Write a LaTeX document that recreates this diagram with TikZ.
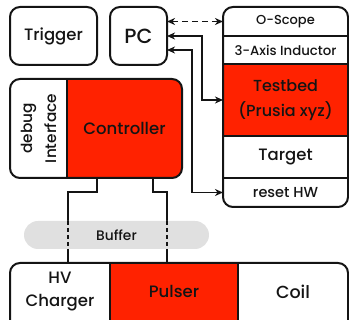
\documentclass[tikz,border=0pt]{standalone}
\usepackage{fontspec}
\setmainfont{Poppins Medium}
\usetikzlibrary{arrows.meta}
\definecolor{hotred}{RGB}{255,34,0}
\definecolor{bufgrey}{RGB}{224,224,224}
\definecolor{ink}{RGB}{20,20,20}
\tikzset{
  box/.style={draw=ink, line width=2pt, rounded corners=10pt},
  part/.style={inner sep=0pt, outer sep=0pt, text=ink, align=center},
  sep/.style={draw=ink, line width=2pt},
  wire/.style={draw=ink, line width=1.6pt},
  arr/.style={draw=ink, line width=1.5pt, {Stealth[length=8pt,width=7pt,inset=2.5pt]}-{Stealth[length=8pt,width=7pt,inset=2.5pt]}},
  big/.style={font=\fontsize{16.5}{19}\selectfont},
}
\begin{document}
\begin{tikzpicture}[x=1pt,y=-1pt]
\useasboundingbox (0,0) rectangle (349,320);
\clip (0,0) rectangle (349,320);

% Trigger and PC
\node[box, part, big, minimum width=87pt, minimum height=58pt] (trigger) at (53.5,36) {Trigger};
\node[box, part, font=\fontsize{20.5}{24}\selectfont, minimum width=57pt, minimum height=58pt] (pc) at (138.5,36) {PC};

% Right column
\begin{scope}
  \clip[rounded corners=10pt] (223,7) rectangle (348,207);
  \node[part, font=\fontsize{13}{15}\selectfont, minimum width=125pt, minimum height=29pt] (oscope) at (285.5,21.5) {O-Scope};
  \node[part, font=\fontsize{13.3}{15}\selectfont, minimum width=125pt, minimum height=28pt] (inductor) at (285.5,50) {3-Axis Inductor};
  \node[part, font=\fontsize{16}{25}\selectfont, fill=hotred, minimum width=125pt, minimum height=72pt] (testbed) at (285.5,100) {Testbed\\(Prusia xyz)};
  \node[part, big, minimum width=125pt, minimum height=42pt] (target) at (285.5,157) {Target};
  \node[part, font=\fontsize{14.5}{16}\selectfont, minimum width=125pt, minimum height=29pt] (resethw) at (285.5,192.5) {reset HW};
\end{scope}
\draw[box] (223,7) rectangle (348,207);
\draw[sep] (oscope.south west) -- (oscope.south east);
\draw[sep] (inductor.south west) -- (inductor.south east);
\draw[sep] (testbed.south west) -- (testbed.south east);
\draw[sep] (target.south west) -- (target.south east);

% Controller block
\begin{scope}
  \clip[rounded corners=10pt] (10,79) rectangle (182,178);
  \node[part, font=\fontsize{15.3}{24}\selectfont, rotate=90, minimum width=99pt, minimum height=57pt] (debug) at (38.5,128.5) {debug\\Interface};
  \node[part, big, fill=hotred, minimum width=115pt, minimum height=99pt] (ctrl) at (124.5,128.5) {Controller};
\end{scope}
\draw[box] (10,79) rectangle (182,178);
\draw[sep] (ctrl.north west) -- (ctrl.south west);

% Bottom block
\begin{scope}
  \clip[rounded corners=10pt] (10,263) rectangle (348,335);
  \node[part, font=\fontsize{16.5}{23}\selectfont, minimum width=100pt, minimum height=57pt] (hv) at (60,291.5) {HV\\Charger};
  \node[part, big, fill=hotred, minimum width=128pt, minimum height=57pt] (pulser) at (174,291.5) {Pulser};
  \node[part, font=\fontsize{17.5}{20}\selectfont, minimum width=110pt, minimum height=57pt] (coil) at (293,291.5) {Coil};
\end{scope}
\draw[box] (10,263) rectangle (348,335);
\draw[sep] (pulser.north west) -- (pulser.south west);
\draw[sep] (pulser.north east) -- (pulser.south east);

% Wires controller -> bottom
\coordinate (wla) at ([xshift=30pt]ctrl.south west);
\coordinate (wlb) at ([xshift=58pt]hv.north west);
\coordinate (wra) at ([xshift=86pt]ctrl.south west);
\coordinate (wrb) at ([xshift=57pt]pulser.north west);
\draw[wire] (wla) -- ++(0,14) -| (wlb);
\draw[wire] (wra) -- ++(0,14) -| (wrb);

% Buffer
\node[part, fill=bufgrey, rounded corners=14pt, font=\fontsize{13.8}{16}\selectfont, minimum width=185pt, minimum height=28pt] (buffer) at (116.5,235) {Buffer};
\draw[wire, dash pattern=on 4pt off 3pt] (wlb |- buffer.north) -- (wlb |- buffer.south);
\draw[wire, dash pattern=on 4pt off 3pt] (wrb |- buffer.north) -- (wrb |- buffer.south);

% Arrows PC <-> right column
\draw[arr, dash pattern=on 6pt off 4pt] (pc.east |- oscope.west) -- (oscope.west);
\draw[arr] (pc.east) -- ++(35,0) |- (testbed.west);
\draw[arr] ([yshift=-14pt]pc.east) -- ++(25,0) |- (resethw.west);
\end{tikzpicture}
\end{document}
